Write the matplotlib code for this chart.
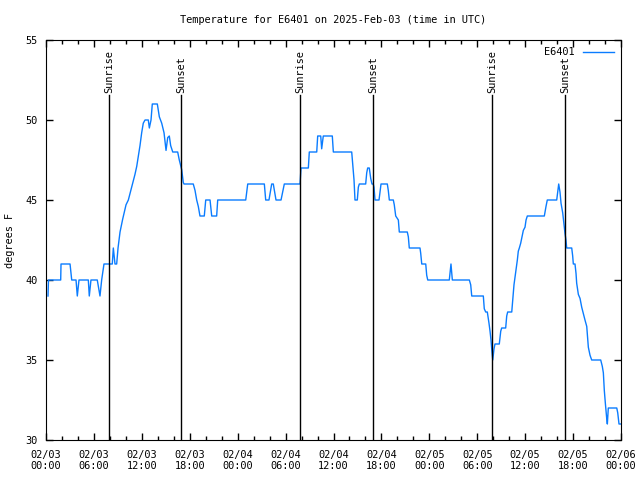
import matplotlib
matplotlib.use("Agg")
import matplotlib.pyplot as plt
from matplotlib.ticker import MultipleLocator, FixedLocator
import numpy as np

# hours since 2025-02-03 00:00 UTC, temperature (F)
hours = [0.25, 0.31, 1.84, 1.88, 3.01, 3.22, 3.76, 3.92, 4.13, 5.30,
         5.42, 5.63, 6.42, 6.76, 6.97, 7.26, 8.30, 8.43, 8.64, 8.85,
         9.02, 9.27, 9.60, 10.02, 10.31, 10.73, 11.14, 11.36, 11.77, 11.98,
         12.18, 12.40, 12.81, 12.94, 13.15, 13.31, 13.94, 14.19, 14.49, 14.78,
         14.94, 15.03, 15.24, 15.44, 15.61, 15.87, 16.49, 16.69, 16.99, 17.19,
         17.28, 18.44, 18.66, 18.87, 19.07, 19.28, 19.82, 20.00, 20.54, 20.75,
         21.37, 21.50, 25.01, 25.26, 27.34, 27.51, 27.92, 28.26, 28.46, 28.80,
         29.43, 29.84, 31.81, 31.93, 32.85, 32.97, 33.90, 34.02, 34.40, 34.52,
         34.72, 35.85, 35.98, 38.28, 38.40, 38.57, 38.69, 38.98, 39.11, 39.23,
         40.03, 40.16, 40.28, 40.48, 40.66, 40.82, 40.98, 41.07, 41.20, 41.70,
         41.95, 42.74, 42.86, 42.99, 43.49, 43.61, 43.79, 44.12, 44.24, 45.24,
         45.37, 45.49, 46.83, 46.92, 47.05, 47.55, 47.67, 47.80, 50.50, 50.71,
         50.88, 53.01, 53.18, 53.31, 54.76, 54.88, 55.06, 55.26, 55.47, 55.60,
         55.72, 55.81, 55.94, 56.10, 56.22, 56.76, 56.94, 57.06, 57.56, 57.69,
         57.81, 58.32, 58.44, 58.60, 58.85, 59.02, 59.14, 59.27, 59.44, 59.60,
         59.77, 59.98, 60.11, 60.27, 62.40, 62.61, 62.77, 63.95, 64.08, 64.20,
         64.36, 64.49, 64.70, 64.86, 64.99, 65.11, 65.20, 65.83, 65.95, 66.03,
         66.24, 66.37, 66.45, 66.66, 66.87, 67.08, 67.28, 67.49, 67.71, 67.91,
         68.12, 68.33, 69.46, 69.66, 69.79, 69.91, 70.04, 70.21, 70.29, 70.41,
         71.47, 71.59, 71.75, 72.00]
temps = [39, 40, 40, 41, 41, 40, 40, 39, 40, 40,
         39, 40, 40, 39, 40, 41, 41, 42, 41, 41,
         42, 43, 43.8, 44.7, 45, 45.8, 46.6, 47.1, 48.4, 49.2,
         49.8, 50, 50, 49.5, 50, 51, 51, 50.2, 49.8, 49.2,
         48.5, 48.1, 48.9, 49, 48.4, 48, 48, 47.5, 46.9, 46.1,
         46, 46, 45.6, 45, 44.6, 44, 44, 45, 45, 44,
         44, 45, 45, 46, 46, 45, 45, 46, 46, 45,
         45, 46, 46, 47, 47, 48, 48, 49, 49, 48.2,
         49, 49, 48, 48, 47.3, 46.25, 45, 45, 45.8, 46,
         46, 46.7, 47, 47, 46.35, 46, 46, 45.8, 45, 45,
         46, 46, 45.6, 45, 45, 44.7, 44, 43.75, 43, 43,
         42.7, 42, 42, 41.67, 41, 41, 40.3, 40, 40, 41,
         40, 40, 39.7, 39, 39, 38.2, 38, 38, 37.3, 36.8,
         36.25, 35.7, 35, 35.7, 36, 36, 36.8, 37, 37, 37.75,
         38, 38, 38.75, 39.7, 40.6, 41.25, 41.8, 42, 42.3, 42.7,
         43.1, 43.3, 43.75, 44, 44, 44.6, 45, 45, 45.5, 46,
         45.5, 44.8, 44.2, 43.5, 42.9, 42.5, 42, 42, 41.5, 41,
         41, 40.4, 39.8, 39.1, 38.85, 38.3, 37.9, 37.5, 37.1, 35.8,
         35.3, 35, 35, 34.6, 34.2, 33.1, 32.3, 31.35, 31, 32,
         32, 31.7, 31, 31]

sun_hours = [7.89, 16.90, 31.81, 40.95, 55.85, 64.99]
sun_labels = ["Sunrise", "Sunset", "Sunrise", "Sunset", "Sunrise", "Sunset"]

tick_hours = list(range(0, 73, 6))
day_labels = ["02/03", "02/04", "02/05", "02/06"]
tick_labels = ["%s\n%02d:00" % (day_labels[h // 24], h % 24) for h in tick_hours]

plt.rcParams['font.family'] = ['DejaVu Sans Mono']
plt.rcParams['font.size'] = 7.4

fig = plt.figure(figsize=(6.4, 4.8), dpi=100)
ax = fig.add_axes([46 / 640, 40 / 480, 575 / 640, 400 / 480])

ax.plot(hours, temps, color='#0a7cff', lw=1.0, label='E6401')

for h, lab in zip(sun_hours, sun_labels):
    ax.axvline(h, ymin=0, ymax=0.862, color='black', lw=1.0)
    ax.text(h, 0.868, lab, rotation=90, ha='center', va='bottom',
            transform=ax.get_xaxis_transform())

ax.set_xlim(0, 72)
ax.set_ylim(30, 55)
ax.xaxis.set_major_locator(FixedLocator(tick_hours))
ax.xaxis.set_minor_locator(MultipleLocator(2))
ax.set_xticklabels(tick_labels)
ax.yaxis.set_major_locator(MultipleLocator(5))
ax.tick_params(which='both', direction='in', top=True, right=True, width=1)
ax.tick_params(which='major', length=5, pad=7)
ax.tick_params(which='minor', length=3)
ax.tick_params(axis='y', pad=6)

ax.set_ylabel('degrees F')
ax.yaxis.set_label_coords(-0.054, 0.5)
ax.set_title('Temperature for E6401 on 2025-Feb-03 (time in UTC)',
             fontsize=7.4, pad=12)

leg = ax.legend(loc='upper right', frameon=False, handlelength=3.0,
                handletextpad=0.8, borderaxespad=0.3, markerfirst=False)

fig.savefig('out.png', dpi=100)
